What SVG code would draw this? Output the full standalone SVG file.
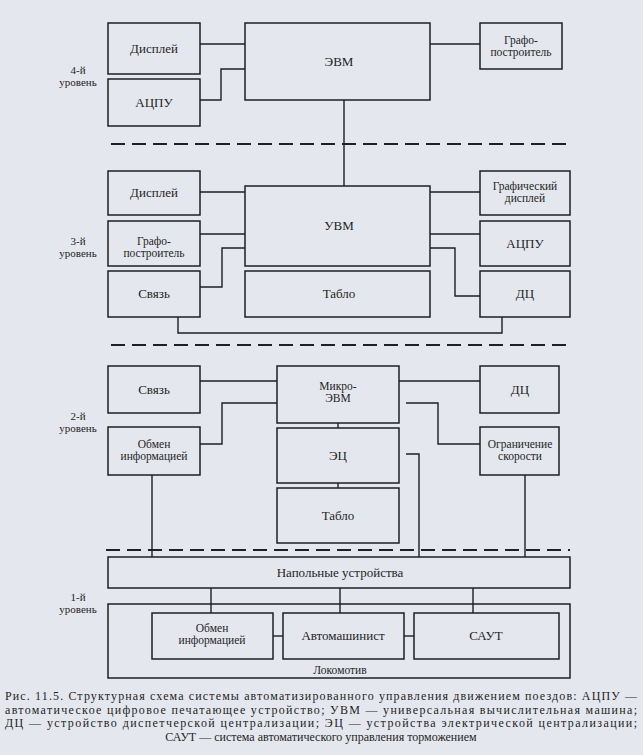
<svg xmlns="http://www.w3.org/2000/svg" width="643" height="755" viewBox="0 0 643 755" font-family="'Liberation Serif', 'Times New Roman', 'DejaVu Serif', serif">
<style>
.bx{fill:none;stroke:#1f1f24;stroke-width:1.5}
.ln{fill:none;stroke:#1f1f24;stroke-width:1.4}
.ds{fill:none;stroke:#1f1f24;stroke-width:2;stroke-dasharray:14 7}
text{font-family:'Liberation Serif','Times New Roman','DejaVu Serif',serif;fill:#1f1f24}
.t{font-size:13px;text-anchor:middle}
.s{font-size:11.5px;text-anchor:middle}
.lv{font-size:11px;text-anchor:middle}
.cap{font-size:12px}
</style>
<rect x="0" y="0" width="643" height="755" fill="#e4e8ee"/>
<g id="connectors">
<path class="ln" d="M200,44 H245"/>
<path class="ln" d="M200,100 H221 V69 H245"/>
<path class="ln" d="M430,44 H480"/>
<path class="ln" d="M344,100 V186"/>
<path class="ds" d="M111,144 H570"/>
<path class="ln" d="M200,192 H245"/>
<path class="ln" d="M200,234 H245"/>
<path class="ln" d="M200,287 H222 V248 H245"/>
<path class="ln" d="M430,192 H480"/>
<path class="ln" d="M430,234 H480"/>
<path class="ln" d="M430,248 H455 V296 H480"/>
<path class="ln" d="M178,317 V333 H502 V317"/>
<path class="ds" d="M111,345 H570"/>
<path class="ln" d="M200,381 H277"/>
<path class="ln" d="M200,444 H222 V403 H277"/>
<path class="ln" d="M399,381 H480"/>
<path class="ln" d="M406,403 H438 V444 H480"/>
<path class="ln" d="M338,423 V428"/>
<path class="ln" d="M338,483 V488"/>
<path class="ln" d="M406,454 H419 V557"/>
<path class="ln" d="M152,475 V557"/>
<path class="ln" d="M525,475 V557"/>
<path class="ds" d="M106,550 H570"/>
<path class="ln" d="M211,588 V613"/>
<path class="ln" d="M340,588 V613"/>
<path class="ln" d="M473,588 V613"/>
<path class="ln" d="M273,636 H283"/>
<path class="ln" d="M404,636 H414"/>
</g>
<g id="levels">
<text class="lv" x="78"><tspan x="78" y="74">4-й</tspan><tspan x="78" y="86">уровень</tspan></text>
<text class="lv" x="78"><tspan x="78" y="245">3-й</tspan><tspan x="78" y="257">уровень</tspan></text>
<text class="lv" x="78"><tspan x="78" y="420">2-й</tspan><tspan x="78" y="432">уровень</tspan></text>
<text class="lv" x="78"><tspan x="78" y="601">1-й</tspan><tspan x="78" y="613">уровень</tspan></text>
</g>
<g id="n4_display"><rect class="bx" x="108" y="23" width="92" height="51"/><text class="t" x="154" y="53">Дисплей</text></g>
<g id="n4_adpu"><rect class="bx" x="108" y="79" width="92" height="47"/><text class="t" x="154" y="107">АЦПУ</text></g>
<g id="n4_evm"><rect class="bx" x="245" y="23" width="185" height="77"/><text class="t" x="339" y="66">ЭВМ</text></g>
<g id="n4_plotter"><rect class="bx" x="480" y="23" width="82" height="46"/><text class="s"><tspan x="521" y="44">Графо-</tspan><tspan x="521" y="56">построитель</tspan></text></g>
<g id="n3_display"><rect class="bx" x="108" y="171" width="92" height="44"/><text class="t" x="154" y="197">Дисплей</text></g>
<g id="n3_plotter"><rect class="bx" x="108" y="221" width="92" height="45"/><text class="s"><tspan x="154" y="245">Графо-</tspan><tspan x="154" y="257">построитель</tspan></text></g>
<g id="n3_link"><rect class="bx" x="108" y="271" width="92" height="46"/><text class="t" x="154" y="298">Связь</text></g>
<g id="n3_uvm"><rect class="bx" x="245" y="186" width="185" height="80"/><text class="t" x="339" y="230">УВМ</text></g>
<g id="n3_tablo"><rect class="bx" x="245" y="271" width="185" height="46"/><text class="t" x="339" y="298">Табло</text></g>
<g id="n3_gdisplay"><rect class="bx" x="480" y="171" width="90" height="44"/><text class="s"><tspan x="525" y="190">Графический</tspan><tspan x="525" y="202">дисплей</tspan></text></g>
<g id="n3_adpu"><rect class="bx" x="480" y="221" width="90" height="45"/><text class="t" x="525" y="248">АЦПУ</text></g>
<g id="n3_dc"><rect class="bx" x="480" y="271" width="90" height="46"/><text class="t" x="525" y="298">ДЦ</text></g>
<g id="n2_link"><rect class="bx" x="108" y="366" width="92" height="47"/><text class="t" x="154" y="394">Связь</text></g>
<g id="n2_exchange"><rect class="bx" x="108" y="427" width="92" height="48"/><text class="s"><tspan x="154" y="448">Обмен</tspan><tspan x="154" y="460">информацией</tspan></text></g>
<g id="n2_microevm"><rect class="bx" x="277" y="366" width="122" height="57"/><text class="s"><tspan x="338" y="390">Микро-</tspan><tspan x="338" y="402">ЭВМ</tspan></text></g>
<g id="n2_ec"><rect class="bx" x="277" y="428" width="122" height="55"/><text class="t" x="338" y="460">ЭЦ</text></g>
<g id="n2_tablo"><rect class="bx" x="277" y="488" width="122" height="55"/><text class="t" x="338" y="520">Табло</text></g>
<g id="n2_dc"><rect class="bx" x="480" y="366" width="79" height="47"/><text class="t" x="520" y="394">ДЦ</text></g>
<g id="n2_speed"><rect class="bx" x="480" y="427" width="79" height="48"/><text class="s"><tspan x="520" y="448">Ограничение</tspan><tspan x="520" y="460">скорости</tspan></text></g>
<g id="n1_floor"><rect class="bx" x="108" y="557" width="462" height="31"/><text class="t" x="340" y="577">Напольные устройства</text></g>
<g id="n1_loco"><rect class="bx" x="108" y="604" width="462" height="74"/><text class="s" x="340" y="674">Локомотив</text></g>
<g id="n1_exchange"><rect class="bx" x="152" y="613" width="121" height="46"/><text class="s"><tspan x="212" y="632">Обмен</tspan><tspan x="212" y="644">информацией</tspan></text></g>
<g id="n1_auto"><rect class="bx" x="283" y="613" width="121" height="46"/><text class="t" x="343" y="640">Автомашинист</text></g>
<g id="n1_saut"><rect class="bx" x="414" y="613" width="145" height="46"/><text class="t" x="486" y="640">САУТ</text></g>
<g id="caption">
<text class="cap" x="5" y="700" textLength="632" lengthAdjust="spacing">Рис. 11.5. Структурная схема системы автоматизированного управления движением поездов: АЦПУ —</text>
<text class="cap" x="5" y="713.5" textLength="632" lengthAdjust="spacing">автоматическое цифровое печатающее устройство; УВМ — универсальная вычислительная машина;</text>
<text class="cap" x="5" y="727" textLength="632" lengthAdjust="spacing">ДЦ — устройство диспетчерской централизации; ЭЦ — устройства электрической централизации;</text>
<text class="cap" x="321" y="740.5" text-anchor="middle">САУТ — система автоматического управления торможением</text>
</g>
</svg>
